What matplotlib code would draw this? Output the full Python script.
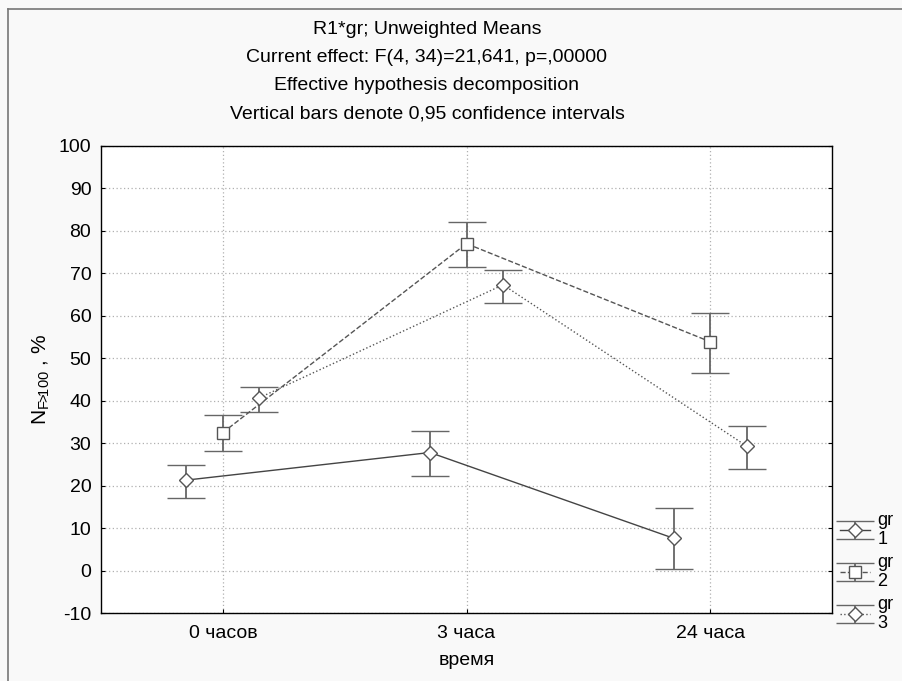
import numpy as np
import matplotlib
matplotlib.use('Agg')
import matplotlib.pyplot as plt
from matplotlib.lines import Line2D

plt.rcParams['font.family'] = ['Liberation Sans', 'DejaVu Sans']
plt.rcParams['mathtext.fontset'] = 'custom'
plt.rcParams['mathtext.rm'] = 'Liberation Sans'
plt.rcParams['axes.unicode_minus'] = False

# ------ data ------
categories = ['0 часов', '3 часа', '24 часа']
groups = ['gr\n1', 'gr\n2', 'gr\n3']
means_gr1 = [21.3, 27.8, 7.6]
lower_gr1 = [17.1, 22.3, 0.4]
upper_gr1 = [24.9, 32.9, 14.7]
means_gr2 = [32.5, 77.0, 53.9]
lower_gr2 = [28.2, 71.5, 46.6]
upper_gr2 = [36.6, 82.1, 60.6]
means_gr3 = [40.7, 67.3, 29.3]
lower_gr3 = [37.3, 63.1, 23.9]
upper_gr3 = [43.3, 70.8, 34.1]

titles = ['R1*gr; Unweighted Means',
          'Current effect: F(4, 34)=21,641, p=,00000',
          'Effective hypothesis decomposition',
          'Vertical bars denote 0,95 confidence intervals']

# ------ figure ------
fig = plt.figure(figsize=(9.02, 6.81), dpi=100, facecolor='#f9f9f9')
ax = fig.add_axes([101/902, 1-613/681, (832-101)/902, (613-146)/681])
ax.set_facecolor('white')

x = np.arange(len(categories))
offset = 0.15
series = [
    (means_gr1, lower_gr1, upper_gr1, -offset, 'D', '-', '#444444', 7),
    (means_gr2, lower_gr2, upper_gr2, 0.0, 's', '--', '#555555', 9),
    (means_gr3, lower_gr3, upper_gr3, offset, 'D', ':', '#555555', 7),
]
handles = []
for (m, lo, up, dx, mk, ls, col, ms), lab in zip(series, groups):
    m = np.array(m); lo = np.array(lo); up = np.array(up)
    err = np.vstack([m - lo, up - m])
    eb = ax.errorbar(x + dx, m, yerr=err, fmt=mk, linestyle=ls, color=col,
                     mfc='white', mec='#555555', ms=ms, mew=1.0, lw=1.0,
                     ecolor='#666666', elinewidth=1.3, capsize=13.5, capthick=1.3,
                     label=lab, zorder=3)
    handles.append(eb)

ax.set_xlim(-0.5, 2.5)
ax.set_ylim(-10, 100)
ax.set_yticks(np.arange(-10, 101, 10))
ax.set_xticks(x)
ax.set_xticklabels(categories, fontsize=14)
ax.tick_params(axis='y', labelsize=14, colors='black')
ax.tick_params(direction='in', length=3, right=True, top=False, pad=7)
ax.tick_params(axis='x', pad=9)
ax.grid(True, linestyle=(0, (1, 2)), color='#b0b0b0', lw=0.9)
for s in ax.spines.values():
    s.set_color('black')
    s.set_linewidth(1.0)

ax.set_xlabel('время', fontsize=14, labelpad=7)
ax.set_ylabel(r'$\mathregular{N_{F\!\!>\!\!100}}$ , %', fontsize=15, labelpad=5)

for i, t in enumerate(titles):
    fig.text(427/902, 1 - (30 + 28*i)/681, t, ha='center', va='center', fontsize=14)

fig.legend(handles=handles, labels=groups, loc='upper left',
           bbox_to_anchor=(836/902, 1 - 508/681), frameon=False, fontsize=13,
           handlelength=1.7, handletextpad=0.4, labelspacing=0.3, borderpad=0.2,
           borderaxespad=0.0)

# window border (top and left)
fig.add_artist(Line2D([8/902, 8/902], [0, 1 - 9/681], transform=fig.transFigure, color='#777777', lw=1.2))
fig.add_artist(Line2D([8/902, 1], [1 - 9/681, 1 - 9/681], transform=fig.transFigure, color='#777777', lw=1.2))

fig.savefig('out.png', dpi=100, facecolor=fig.get_facecolor())
